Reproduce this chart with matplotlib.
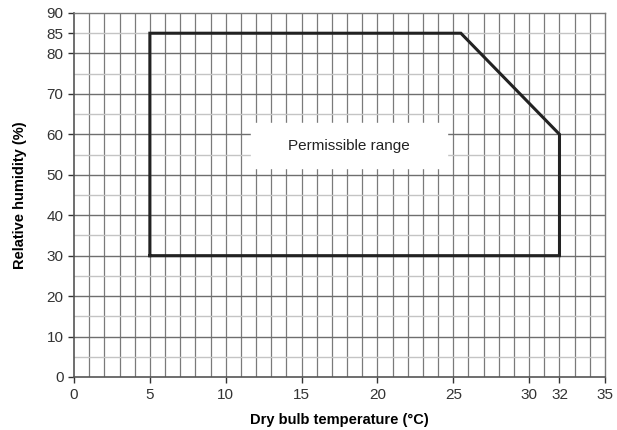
import numpy as np
import matplotlib.pyplot as plt

plt.rcParams['font.family'] = ['Liberation Sans', 'DejaVu Sans']

# boundary of the permissible region (temperature degC, humidity %)
region_temp = [5, 5, 25.5, 32, 32, 5]
region_rh = [30, 85, 85, 60, 30, 30]

x_ticks = [0, 5, 10, 15, 20, 25, 30, 32, 35]
y_ticks = [0, 10, 20, 30, 40, 50, 60, 70, 80, 85, 90]

fig = plt.figure(figsize=(6.17, 4.30), dpi=100)
ax = fig.add_axes([74 / 617, 53 / 430, 531 / 617, 364 / 430])

ax.set_xlim(0, 35)
ax.set_ylim(0, 90)

# grid: vertical every 1 degC, horizontal every 5 % (10s darker)
for x in np.arange(1, 35):
    ax.axvline(x, color='#7a7a7a', lw=0.9, zorder=1)
for y in np.arange(5, 90, 5):
    c = '#6e6e6e' if y % 10 == 0 else '#c4c4c4'
    ax.axhline(y, color=c, lw=1.0, zorder=1)

# label box masking grid
ax.fill_between([11.65, 24.6], 51.7, 62.8, color='white', zorder=2)
ax.text(18.1, 57.2, 'Permissible range', ha='center', va='center',
        fontsize=11, color='#222222', zorder=3)

ax.plot(region_temp, region_rh, color='#222222', lw=2.2,
        solid_joinstyle='miter', zorder=4)

ax.set_xticks(x_ticks)
ax.set_yticks(y_ticks)
ax.tick_params(labelsize=11, colors='#333333', length=4, width=1)
ax.tick_params(axis='x', pad=4)

for side in ['left', 'bottom']:
    ax.spines[side].set_color('#555555')
    ax.spines[side].set_linewidth(1.2)
for side in ['top', 'right']:
    ax.spines[side].set_color('#7a7a7a')
    ax.spines[side].set_linewidth(1.0)

ax.set_xlabel('Dry bulb temperature (°C)', fontsize=10.5, fontweight='bold',
              labelpad=8)
ax.set_ylabel('Relative humidity (%)', fontsize=10.5, fontweight='bold',
              labelpad=14)

fig.savefig('out.png', dpi=100)
